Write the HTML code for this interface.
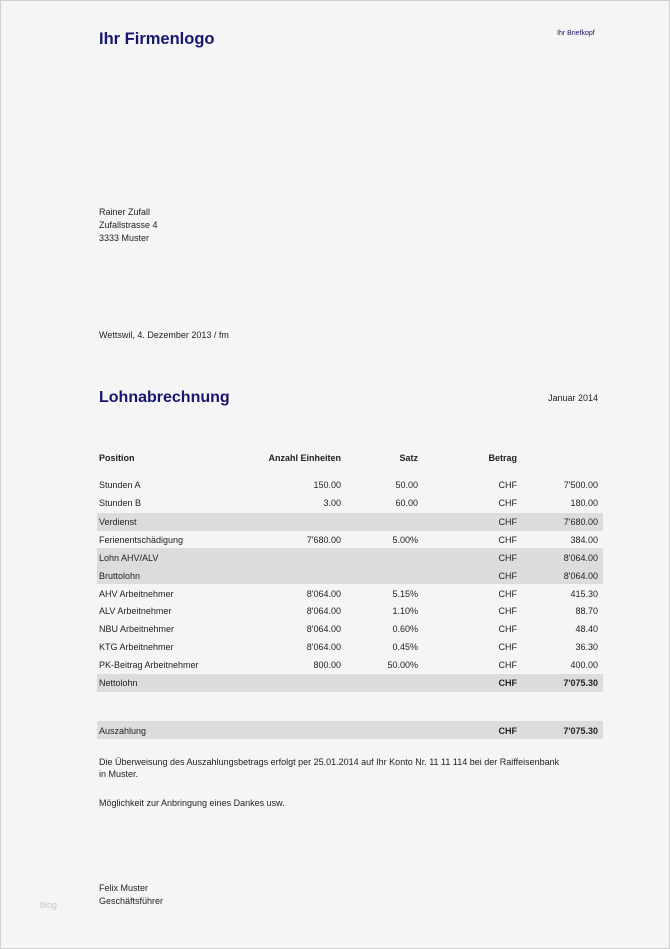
<!DOCTYPE html>
<html><head><meta charset="utf-8"><style>
body{margin:0;width:670px;height:949px;background:#f5f5f5;position:relative;overflow:hidden;font-family:"Liberation Sans",sans-serif;color:#222;font-size:9px}
.frame{position:absolute;left:0;top:0;width:668px;height:947px;border:1px solid #cfcfcf}
.a{position:absolute;white-space:nowrap;line-height:12px}
.r{text-align:right}
.sh{position:absolute;left:97px;width:506px;height:18px;background:#dcdcdc}
.t{color:#16166e}
b{font-weight:bold}
</style></head><body>
<div class="frame"></div>
<div class="a t" style="left:99px;top:28px;font-size:16.5px;line-height:22px;font-weight:bold">Ihr Firmenlogo</div>
<div class="a t" style="left:557px;top:28px;font-size:7px">Ihr Briefkopf</div>
<div class="a" style="left:99px;top:206px">Rainer Zufall</div>
<div class="a" style="left:99px;top:219px">Zufallstrasse 4</div>
<div class="a" style="left:99px;top:232px">3333 Muster</div>
<div class="a" style="left:99px;top:329px">Wettswil, 4. Dezember 2013 / fm</div>
<div class="a t" style="left:99px;top:387px;font-size:16px;line-height:22px;font-weight:bold">Lohnabrechnung</div>
<div class="a" style="left:548px;top:392px">Januar 2014</div>

<div class="sh" style="top:513px"></div>
<div class="sh" style="top:548px;height:36px"></div>
<div class="sh" style="top:674px"></div>
<div class="sh" style="top:721px"></div>

<div class="a" style="left:99px;top:452px;font-weight:bold">Position</div>
<div class="a r" style="right:329px;top:452px;font-weight:bold">Anzahl Einheiten</div>
<div class="a r" style="right:252px;top:452px;font-weight:bold">Satz</div>
<div class="a r" style="right:153px;top:452px;font-weight:bold">Betrag</div>

<div id="rows"></div>
<script>
var rows=[
[485,"Stunden A","150.00","50.00","7'500.00"],
[503,"Stunden B","3.00","60.00","180.00"],
[522,"Verdienst","","","7'680.00"],
[540,"Ferienentschädigung","7'680.00","5.00%","384.00"],
[558,"Lohn AHV/ALV","","","8'064.00"],
[576,"Bruttolohn","","","8'064.00"],
[594,"AHV Arbeitnehmer","8'064.00","5.15%","415.30"],
[611,"ALV Arbeitnehmer","8'064.00","1.10%","88.70"],
[629,"NBU Arbeitnehmer","8'064.00","0.60%","48.40"],
[647,"KTG Arbeitnehmer","8'064.00","0.45%","36.30"],
[665,"PK-Beitrag Arbeitnehmer","800.00","50.00%","400.00"],
[683,"Nettolohn","","","<b>7'075.30</b>",1],
[731,"Auszahlung","","","<b>7'075.30</b>",1]];
var h="";
rows.forEach(function(r){var t=r[0]-6;
h+='<div class="a" style="left:99px;top:'+t+'px">'+r[1]+'</div>';
h+='<div class="a r" style="right:329px;top:'+t+'px">'+r[2]+'</div>';
h+='<div class="a r" style="right:252px;top:'+t+'px">'+r[3]+'</div>';
h+='<div class="a r" style="right:153px;top:'+t+'px">'+(r[5]?'<b>CHF</b>':'CHF')+'</div>';
h+='<div class="a r" style="right:72px;top:'+t+'px">'+r[4]+'</div>';});
document.getElementById("rows").innerHTML=h;
</script>
<div class="a" style="left:99px;top:756px">Die Überweisung des Auszahlungsbetrags erfolgt per 25.01.2014 auf Ihr Konto Nr. 11 11 114 bei der Raiffeisenbank</div>
<div class="a" style="left:99px;top:768px">in Muster.</div>
<div class="a" style="left:99px;top:797px">Möglichkeit zur Anbringung eines Dankes usw.</div>
<div class="a" style="left:99px;top:882px">Felix Muster</div>
<div class="a" style="left:99px;top:895px">Geschäftsführer</div>
<div class="a" style="left:40px;top:899px;color:#c8c8c8">blog</div>
</body></html>
